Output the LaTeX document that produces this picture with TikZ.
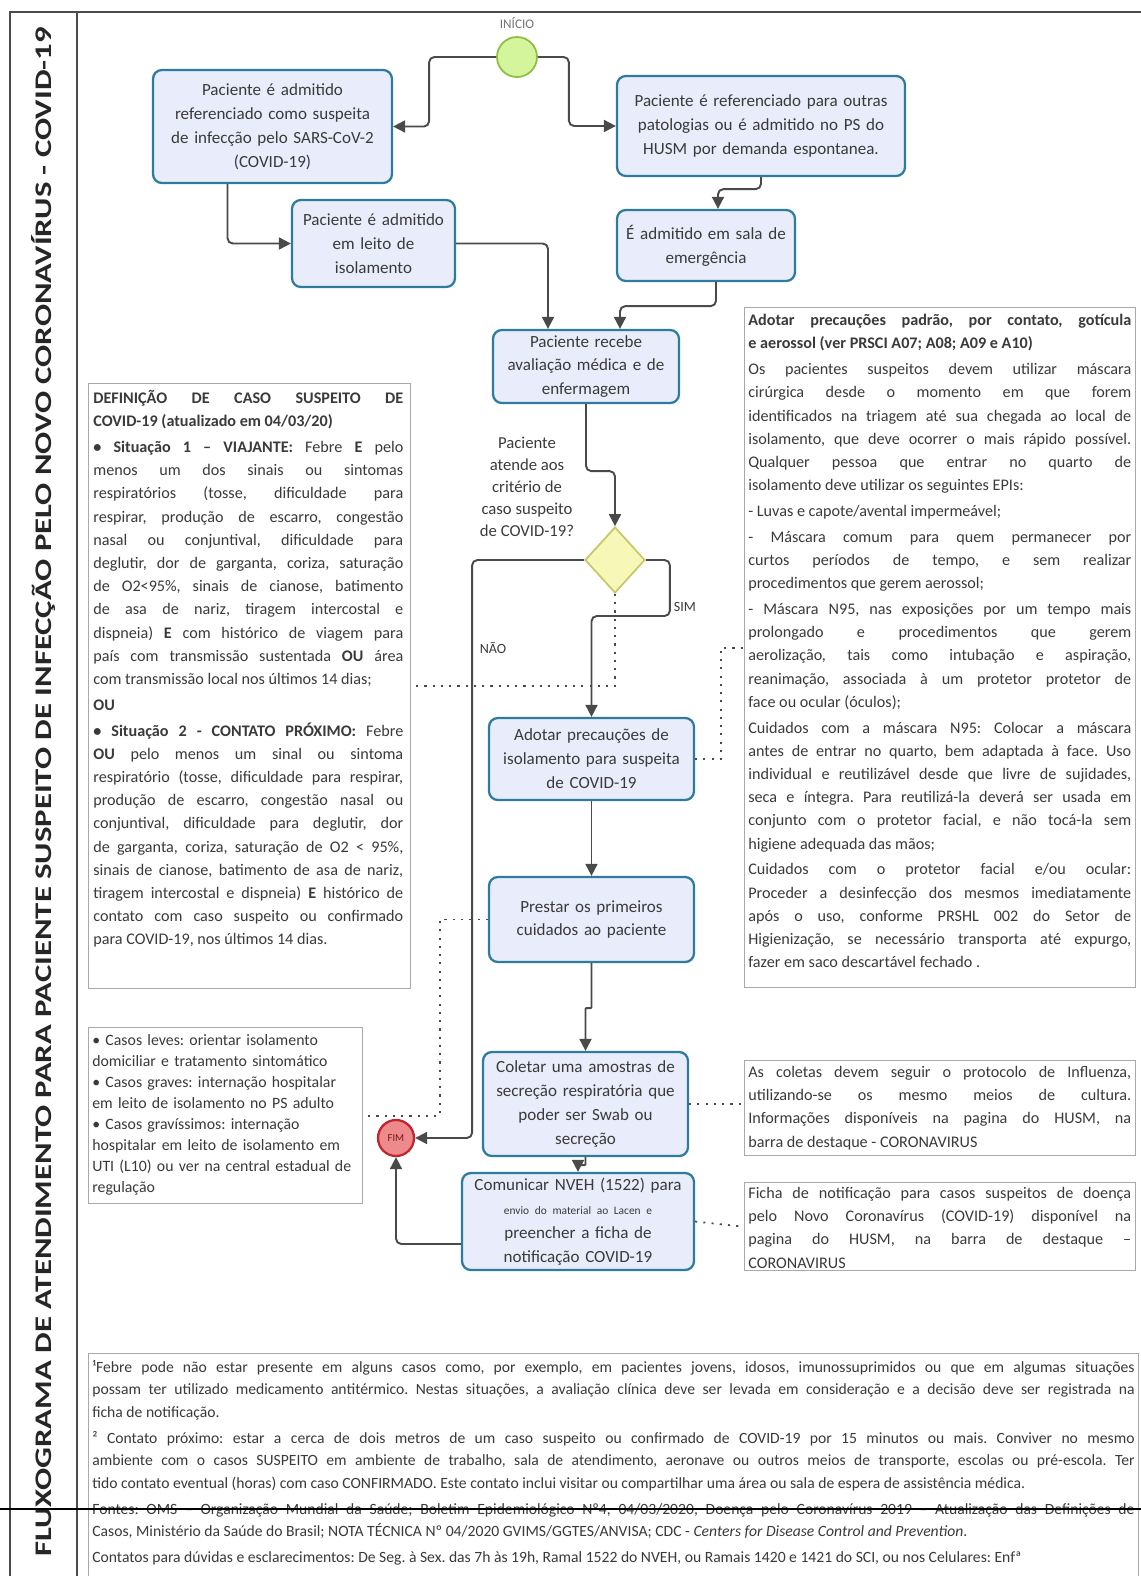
\documentclass[tikz,border=0pt]{standalone}
\usepackage{fontspec}
\usepackage{graphicx}
\setmainfont{Carlito}
\usetikzlibrary{arrows.meta,shapes.geometric,positioning}
\setlength{\parindent}{0pt}
\frenchspacing
\tolerance=10000
\hbadness=10000
\definecolor{caixa}{HTML}{E9ECFA}
\definecolor{borda}{HTML}{2E7C9C}
\definecolor{texto}{HTML}{3A3A3A}
\definecolor{linha}{HTML}{4A4A4A}
\definecolor{verde}{HTML}{D4F59C}
\definecolor{verdeb}{HTML}{8DBF45}
\definecolor{amarelo}{HTML}{F7F8B8}
\definecolor{amarelob}{HTML}{C9C76A}
\definecolor{vermelho}{HTML}{EE8A8C}
\definecolor{vermelhob}{HTML}{C0262E}
\definecolor{cinza}{HTML}{A9A9A9}

\begin{document}
\begin{tikzpicture}[
    x=0.02cm, y=-0.02cm, % one unit = one pixel of the sheet
    etapa/.style={rectangle,rounded corners=5pt,draw=borda,line width=1.3pt,fill=caixa,text=texto,align=center,inner sep=2pt,font=\fontsize{9.7}{13.6}\selectfont},
    nota/.style={rectangle,draw=cinza,line width=0.8pt,fill=white},
    notatexto/.style={anchor=north west,inner sep=0pt,text=texto,align=justify,font=\fontsize{9.2}{13.2}\selectfont\setlength{\parskip}{1.5pt}},
    inicio/.style={circle,draw=verdeb,fill=verde,line width=1pt,minimum size=0.8cm},
    fim/.style={circle,draw=vermelhob,fill=vermelho,line width=1.3pt,minimum size=0.72cm,inner sep=0pt,text=vermelhob!60!black,font=\fontsize{6}{7}\selectfont},
    decisao/.style={diamond,draw=amarelob,fill=amarelo,line width=1pt,minimum width=1.2cm,minimum height=1.32cm,inner sep=0pt},
    fluxo/.style={draw=linha,line width=1.1pt,rounded corners=3pt,-{Triangle[length=2.4mm,width=2.4mm]}},
    assoc/.style={draw=linha,line width=1pt,dash pattern=on 1.2pt off 3.5pt}
]
    \useasboundingbox (0,0) rectangle (1141,1576);
    \clip (0,0) rectangle (1141,1576);

    % sheet frame and title column
    \draw[line width=0.9pt, black!70] (10,1576) -- (10,12) -- (1141,12);
    \draw[line width=0.9pt, black!70] (77,12) -- (77,1576);
    \node[rotate=90, text=black!85, inner sep=0pt] (titulo) at (43,792)
        {\resizebox{30.6cm}{0.4cm}{\bfseries FLUXOGRAMA DE ATENDIMENTO PARA PACIENTE SUSPEITO DE INFECÇÃO PELO NOVO CORONAVÍRUS - COVID-19}};

    % start and entry steps
    \node[inicio] (inicio) at (517,57) {};
    \node[above=1pt of inicio, text=black!55, font=\fontsize{7.5}{9}\selectfont] (rotuloinicio) {INÍCIO};
    \node[etapa, minimum width=4.78cm, minimum height=2.26cm, text width=4.5cm] (suspeita) at (272.5,126.5)
        {Paciente é admitido\\ referenciado como suspeita\\ de infecção pelo SARS-CoV-2\\ (COVID-19)};
    \node[etapa, minimum width=5.76cm, minimum height=2cm, text width=5.5cm] (outras) at (761,126)
        {Paciente é referenciado para outras\\ patologias ou é admitido no PS do\\ HUSM por demanda espontanea.};
    \node[etapa, minimum width=3.26cm, minimum height=1.74cm, text width=3cm] (leito) at (373.5,243.5)
        {Paciente é admitido\\ em leito de\\ isolamento};
    \node[etapa, minimum width=3.56cm, minimum height=1.42cm, text width=3.3cm] (emergencia) at (706,245.5)
        {É admitido em sala de\\ emergência};
    \node[etapa, minimum width=3.72cm, minimum height=1.46cm, text width=3.5cm] (avaliacao) at (586,366.5)
        {Paciente recebe\\ avaliação médica e de\\ enfermagem};

    % decision
    \node[decisao] (decisao) at (615,560) {};
    \node[text=texto, align=center, font=\fontsize{9.5}{12.5}\selectfont] (pergunta) at (527,487)
        {Paciente\\ atende aos\\ critério de\\ caso suspeito\\ de COVID-19?};
    \node[text=texto, font=\fontsize{8}{9}\selectfont] (nao) at (493,648) {NÃO};
    \node[text=texto, font=\fontsize{8}{9}\selectfont] (sim) at (685,607) {SIM};

    % care steps
    \node[etapa, minimum width=4.1cm, minimum height=1.64cm, text width=3.9cm] (isolamento) at (591.5,759)
        {Adotar precauções de\\ isolamento para suspeita\\ de COVID-19};
    \node[etapa, minimum width=4.1cm, minimum height=1.7cm, text width=3.9cm] (cuidados) at (591.5,919.5)
        {Prestar os primeiros\\ cuidados ao paciente};
    \node[etapa, minimum width=4.1cm, minimum height=2.08cm, text width=3.9cm] (coleta) at (585.5,1104)
        {Coletar uma amostras de\\ secreção respiratória que\\ poder ser Swab ou\\ secreção};
    \node[etapa, minimum width=4.64cm, minimum height=1.94cm, text width=4.4cm] (comunicar) at (578,1221.5)
        {Comunicar NVEH (1522) para\\ {\fontsize{6.5}{8}\selectfont envio do material ao Lacen e}\\ preencher a ficha de\\ notificação COVID-19};
    \node[fim] (fim) at (396,1138) {FIM};

    % notes
    \node[nota, anchor=north west, minimum width=6.44cm, minimum height=12.1cm] (definicao) at (88,383) {};
    \node[notatexto, text width=6.2cm] (definicaotexto) at (93,390)
        {{\bfseries DEFINIÇÃO DE CASO SUSPEITO DE\linebreak COVID-19 (atualizado em 04/03/20)}\par
        \textbf{• Situação 1 – VIAJANTE:} Febre \textbf{E} pelo\linebreak menos um dos sinais ou sintomas\linebreak respiratórios (tosse, dificuldade para\linebreak respirar, produção de escarro, congestão\linebreak nasal ou conjuntival, dificuldade para\linebreak deglutir, dor de garganta, coriza, saturação\linebreak de O2<95\%, sinais de cianose, batimento\linebreak de asa de nariz, tiragem intercostal e\linebreak dispneia) \textbf{E} com histórico de viagem para\linebreak país com transmissão sustentada \textbf{OU} área\linebreak com transmissão local nos últimos 14 dias;\par
        \textbf{OU}\par
        \textbf{• Situação 2 - CONTATO PRÓXIMO:} Febre\linebreak \textbf{OU} pelo menos um sinal ou sintoma\linebreak respiratório (tosse, dificuldade para respirar,\linebreak produção de escarro, congestão nasal ou\linebreak conjuntival, dificuldade para deglutir, dor\linebreak de garganta, coriza, saturação de O2 < 95\%,\linebreak sinais de cianose, batimento de asa de nariz,\linebreak tiragem intercostal e dispneia) \textbf{E} histórico de\linebreak contato com caso suspeito ou confirmado\linebreak para COVID-19, nos últimos 14 dias.};

    \node[nota, anchor=north west, minimum width=7.82cm, minimum height=13.6cm] (precaucoes) at (744,307) {};
    \node[notatexto, text width=7.66cm] (precaucoestexto) at (748,314)
        {{\bfseries Adotar precauções padrão, por contato, gotícula\linebreak e aerossol (ver PRSCI A07; A08; A09 e A10)}\par
        Os pacientes suspeitos devem utilizar máscara\linebreak cirúrgica desde o momento em que forem\linebreak identificados na triagem até sua chegada ao local de\linebreak isolamento, que deve ocorrer o mais rápido possível.\linebreak Qualquer pessoa que entrar no quarto de\linebreak isolamento deve utilizar os seguintes EPIs:\par
        - Luvas e capote/avental impermeável;\par
        - Máscara comum para quem permanecer por\linebreak curtos períodos de tempo, e sem realizar\linebreak procedimentos que gerem aerossol;\par
        - Máscara N95, nas exposições por um tempo mais\linebreak prolongado e procedimentos que gerem\linebreak aerolização, tais como intubação e aspiração,\linebreak reanimação, associada à um protetor protetor de\linebreak face ou ocular (óculos);\par
        Cuidados com a máscara N95: Colocar a máscara\linebreak antes de entrar no quarto, bem adaptada à face. Uso\linebreak individual e reutilizável desde que livre de sujidades,\linebreak seca e íntegra. Para reutilizá-la deverá ser usada em\linebreak conjunto com o protetor facial, e não tocá-la sem\linebreak higiene adequada das mãos;\par
        Cuidados com o protetor facial e/ou ocular:\linebreak Proceder a desinfecção dos mesmos imediatamente\linebreak após o uso, conforme PRSHL 002 do Setor de\linebreak Higienização, se necessário transporta até expurgo,\linebreak fazer em saco descartável fechado .};

    \node[nota, anchor=north west, minimum width=5.48cm, minimum height=3.52cm] (casos) at (88,1027) {};
    \node[notatexto, align=left, text width=5.45cm, font=\fontsize{9}{12}\selectfont] (casostexto) at (92,1034)
        {• Casos leves: orientar isolamento\\ domiciliar e tratamento sintomático\\ • Casos graves: internação hospitalar\\ em leito de isolamento no PS adulto\\ • Casos gravíssimos: internação\\ hospitalar em leito de isolamento em\\ UTI (L10) ou ver na central estadual de\\ regulação};

    \node[nota, anchor=north west, minimum width=7.82cm, minimum height=1.9cm] (coletas) at (744,1060) {};
    \node[notatexto, text width=7.66cm] (coletastexto) at (748,1066)
        {As coletas devem seguir o protocolo de Influenza,\linebreak utilizando-se os mesmo meios de cultura.\linebreak Informações disponíveis na pagina do HUSM, na\linebreak barra de destaque - CORONAVIRUS};

    \node[nota, anchor=north west, minimum width=7.82cm, minimum height=1.76cm] (ficha) at (744,1182) {};
    \node[notatexto, text width=7.66cm] (fichatexto) at (748,1187)
        {Ficha de notificação para casos suspeitos de doença\linebreak pelo Novo Coronavírus (COVID-19) disponível na\linebreak pagina do HUSM, na barra de destaque –\linebreak CORONAVIRUS};

    \node[nota, anchor=north west, minimum width=21cm, minimum height=5cm] (rodape) at (88,1353) {};
    \node[notatexto, text width=20.85cm, font=\fontsize{8.9}{12.8}\selectfont\setlength{\parskip}{2pt}] (rodapetexto) at (92,1360)
        {¹Febre pode não estar presente em alguns casos como, por exemplo, em pacientes jovens, idosos, imunossuprimidos ou que em algumas situações\linebreak possam ter utilizado medicamento antitérmico. Nestas situações, a avaliação clínica deve ser levada em consideração e a decisão deve ser registrada na\linebreak ficha de notificação.\par
        ² Contato próximo: estar a cerca de dois metros de um caso suspeito ou confirmado de COVID-19 por 15 minutos ou mais. Conviver no mesmo\linebreak ambiente com o casos SUSPEITO em ambiente de trabalho, sala de atendimento, aeronave ou outros meios de transporte, escolas ou pré-escola. Ter\linebreak tido contato eventual (horas) com caso CONFIRMADO. Este contato inclui visitar ou compartilhar uma área ou sala de espera de assistência médica.\par
        Fontes: OMS – Organização Mundial da Saúde; Boletim Epidemiológico Nº4, 04/03/2020, Doença pelo Coronavírus 2019 – Atualização das Definições de\linebreak Casos, Ministério da Saúde do Brasil; NOTA TÉCNICA Nº 04/2020 GVIMS/GGTES/ANVISA; CDC - \textit{Centers for Disease Control and Prevention}.\par
        \mbox{Contatos para dúvidas e esclarecimentos: De Seg. à Sex. das 7h às 19h, Ramal 1522 do NVEH, ou Ramais 1420 e 1421 do SCI, ou nos Celulares: Enfª}};
    \draw[line width=1pt, black] (0,1509) -- (1141,1509);

    % solid flow
    \draw[fluxo] (inicio.west) -- ++(-67,0) |- (suspeita.east);
    \draw[fluxo] (inicio.east) -- ++(31,0) |- (outras.west);
    \draw[fluxo] ([xshift=-0.9cm]suspeita.south) |- (leito.west);
    \draw[fluxo] (leito.east) -| ([xshift=-0.76cm]avaliacao.north);
    \draw[fluxo] (outras.south) -- ++(0,12) -| ([xshift=0.24cm]emergencia.north);
    \draw[fluxo] ([xshift=0.2cm]emergencia.south) -- ++(0,24) -| ([xshift=0.68cm]avaliacao.north);
    \draw[fluxo] (avaliacao.south) -- ++(0,67) -| (decisao.north);
    \draw[fluxo] (decisao.west) -- ++(-112,0) |- (fim.east);
    \draw[fluxo] (decisao.east) -- ++(24,0) -- ++(0,56) -| (isolamento.north);
    \draw[fluxo] (isolamento.south) -- (cuidados.north);
    \draw[fluxo, rounded corners=0.5pt] (cuidados.south) -- ++(0,45) -| (coleta.north);
    \draw[fluxo, rounded corners=0.5pt] (coleta.south) -- ++(0,8) -| (comunicar.north);
    \draw[fluxo] ([yshift=-0.45cm]comunicar.west) -| (fim.south);

    % dotted links to the notes
    \draw[assoc] (decisao.south) |- (definicao.east);
    \draw[assoc] (isolamento.east) -- ++(26,0) |- (precaucoes.west);
    \draw[assoc] (cuidados.west) -- ++(-48,0) |- (casos.east);
    \draw[assoc] (coleta.east) -- (coleta.east -| coletas.west);
    \draw[assoc] (comunicar.east) -- (ficha.west);
\end{tikzpicture}
\end{document}
